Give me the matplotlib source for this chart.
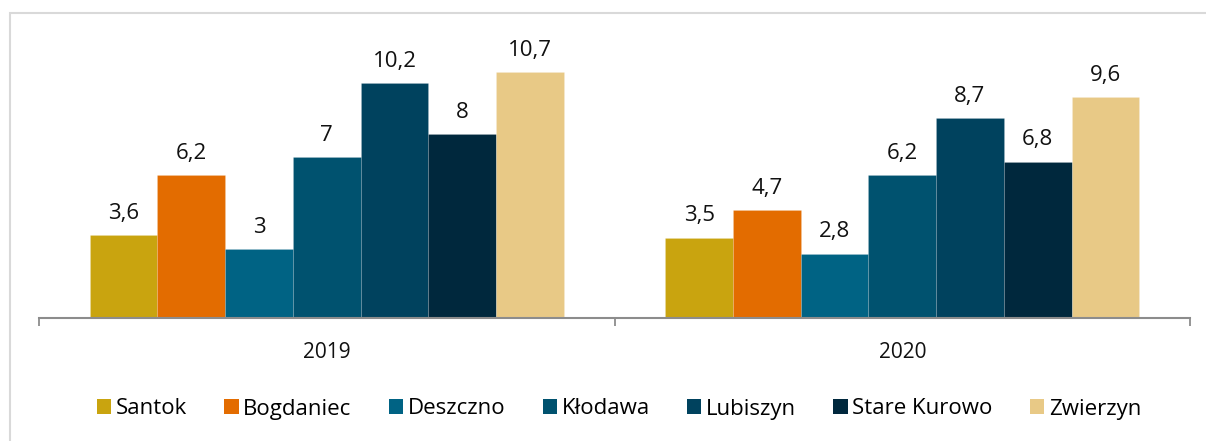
import matplotlib
matplotlib.use('Agg')
import matplotlib.pyplot as plt
from matplotlib.patches import Rectangle, Patch
import numpy as np

plt.rcParams['font.family'] = ['Open Sans', 'DejaVu Sans']

years = ['2019', '2020']
gminy = ['Santok', 'Bogdaniec', 'Deszczno', 'Kłodawa', 'Lubiszyn', 'Stare Kurowo', 'Zwierzyn']
values = {
    'Santok': [3.6, 3.5],
    'Bogdaniec': [6.2, 4.7],
    'Deszczno': [3.0, 2.8],
    'Kłodawa': [7.0, 6.2],
    'Lubiszyn': [10.2, 8.7],
    'Stare Kurowo': [8.0, 6.8],
    'Zwierzyn': [10.7, 9.6],
}
colors = ['#C9A40F', '#E36C00', '#006384', '#00526F', '#00425E', '#00283D', '#E8C986']


def fmt(v):
    s = ('%.1f' % v).rstrip('0').rstrip('.')
    return s.replace('.', ',')


fig = plt.figure(figsize=(12.06, 4.41), dpi=100)
W, H = 1206, 441

# outer chart frame (cropped on the right and bottom)
fig.patches.append(Rectangle((10 / W, -0.1), 1.2, 1 - 13 / H + 0.1, transform=fig.transFigure,
                             fill=False, edgecolor='#D9D9D9', linewidth=1.5))

ax = fig.add_axes([39 / W, 1 - 318 / H, (1190 - 39) / W, (318 - 30) / H])

n = len(gminy)
gap = 1.5
width = 1.0 / (n + gap)
x = np.arange(len(years))

for i, g in enumerate(gminy):
    pos = x - 0.5 + width * (gap / 2 + i + 0.5)
    bars = ax.bar(pos, values[g], width, color=colors[i], label=g,
                  edgecolor=(1, 1, 1, 0.15), linewidth=0.6)
    for b, v in zip(bars, values[g]):
        ax.annotate(fmt(v), (b.get_x() + b.get_width() / 2, v), xytext=(0, 8),
                    textcoords='offset points', ha='center', va='bottom',
                    fontsize=16, color='#111111')

ax.set_xlim(-0.5, 1.5)
ax.set_ylim(0, 288 / 23.0)
for s in ['top', 'right', 'left']:
    ax.spines[s].set_visible(False)
ax.spines['bottom'].set_color('#8C8C8C')
ax.spines['bottom'].set_linewidth(1.5)
ax.set_yticks([])
ax.set_xticks([-0.5, 0.5, 1.5])
ax.set_xticklabels([])
ax.tick_params(axis='x', direction='out', length=6, width=1.3, color='#8C8C8C')
for xi, yr in zip(x, years):
    ax.text(xi, -35 / 23.0, yr, ha='center', va='center', fontsize=15, color='#111111')

handles = [Patch(facecolor=c, edgecolor='none') for c in colors]
fig.legend(handles, gminy, loc='center', bbox_to_anchor=(619 / W, 1 - 409 / H), ncol=n,
           frameon=False, fontsize=16, handlelength=0.65, handleheight=0.65,
           handletextpad=0.2, columnspacing=1.68)

fig.savefig('out.png', dpi=100)
